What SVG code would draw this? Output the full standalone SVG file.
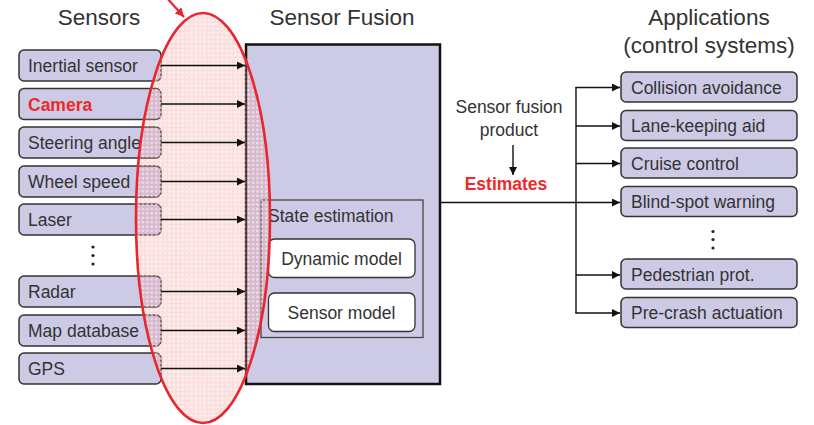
<svg xmlns="http://www.w3.org/2000/svg" width="814" height="425" viewBox="0 0 814 425">
  <style>
    text { font-family: "Liberation Sans", Arial, sans-serif; fill: #333; }
    .title { font-size: 22.5px; text-anchor: middle; }
    .lbl { font-size: 17.5px; }
    .mid { text-anchor: middle; }
    .node { fill: #cdcae6; stroke: #333; stroke-width: 1.5; }
    .white { fill: #fff; stroke: #333; stroke-width: 1.3; }
    .conn { stroke: #111; stroke-width: 1.4; fill: none; }
    .red { fill: #ec2a2a; font-weight: bold; }
  </style>
  <defs>
    <marker id="ah" viewBox="0 0 10 10" refX="10" refY="5" markerWidth="8" markerHeight="8" markerUnits="userSpaceOnUse" orient="auto">
      <path d="M0,0 L10,5 L0,10 z" fill="#111"/>
    </marker>
    <marker id="ahr" viewBox="0 0 10 10" refX="10" refY="5" markerWidth="9" markerHeight="9" markerUnits="userSpaceOnUse" orient="auto">
      <path d="M0,0 L10,5 L0,10 z" fill="#e8262b"/>
    </marker>
    <pattern id="grid" width="4.4" height="4.4" patternUnits="userSpaceOnUse">
      <rect width="4.4" height="4.4" fill="#f08c8c" fill-opacity="0.28"/>
      <rect x="1.1" y="1.1" width="2.2" height="2.2" fill="#ffffff" fill-opacity="0.6"/>
    </pattern>
  </defs>

  <!-- column titles -->
  <text class="title" x="99" y="25">Sensors</text>
  <text class="title" x="342" y="25">Sensor Fusion</text>
  <text class="title" x="709" y="25">Applications</text>
  <text class="title" x="709" y="53">(control systems)</text>

  <!-- sensor fusion block -->
  <g id="sensor-fusion">
    <rect x="246" y="44.5" width="194" height="339.5" fill="#cdcae6" stroke="#111" stroke-width="2.5"/>
    <g id="state-estimation">
      <rect x="261" y="200" width="162" height="137.5" fill="#cdcae6" stroke="#444" stroke-width="1.3"/>
      <text class="lbl" x="268" y="222">State estimation</text>
    </g>
    <g id="dynamic-model">
      <rect class="white" x="268.5" y="239" width="146.5" height="38.5" rx="6"/>
      <text class="lbl mid" x="341.5" y="265">Dynamic model</text>
    </g>
    <g id="sensor-model">
      <rect class="white" x="268.5" y="293" width="146.5" height="38.5" rx="6"/>
      <text class="lbl mid" x="341.5" y="319">Sensor model</text>
    </g>
  </g>

  <!-- sensors -->
  <g id="inertial-sensor">
    <rect class="node" x="19" y="50" width="142" height="31" rx="5"/>
    <text class="lbl" x="28" y="72">Inertial sensor</text>
  </g>
  <g id="camera">
    <rect class="node" x="19" y="88.5" width="142" height="31" rx="5"/>
    <text class="lbl red" x="28" y="110.5">Camera</text>
  </g>
  <g id="steering-angle">
    <rect class="node" x="19" y="127" width="142" height="31" rx="5"/>
    <text class="lbl" x="28" y="149">Steering angle</text>
  </g>
  <g id="wheel-speed">
    <rect class="node" x="19" y="166" width="142" height="31" rx="5"/>
    <text class="lbl" x="28" y="188">Wheel speed</text>
  </g>
  <g id="laser">
    <rect class="node" x="19" y="204" width="142" height="31" rx="5"/>
    <text class="lbl" x="28" y="226">Laser</text>
  </g>
  <g id="sensor-ellipsis" fill="#222">
    <circle cx="93" cy="247" r="1.6"/>
    <circle cx="93" cy="255.5" r="1.6"/>
    <circle cx="93" cy="264" r="1.6"/>
  </g>
  <g id="radar">
    <rect class="node" x="19" y="276" width="142" height="31" rx="5"/>
    <text class="lbl" x="28" y="298">Radar</text>
  </g>
  <g id="map-database">
    <rect class="node" x="19" y="315" width="142" height="31" rx="5"/>
    <text class="lbl" x="28" y="337">Map database</text>
  </g>
  <g id="gps">
    <rect class="node" x="19" y="353" width="142" height="31" rx="5"/>
    <text class="lbl" x="28" y="375">GPS</text>
  </g>

  <!-- applications -->
  <g id="collision-avoidance">
    <rect class="node" x="621" y="72" width="176" height="30" rx="5"/>
    <text class="lbl" x="631" y="93.5">Collision avoidance</text>
  </g>
  <g id="lane-keeping-aid">
    <rect class="node" x="621" y="110.5" width="176" height="30" rx="5"/>
    <text class="lbl" x="631" y="132">Lane-keeping aid</text>
  </g>
  <g id="cruise-control">
    <rect class="node" x="621" y="148" width="176" height="30" rx="5"/>
    <text class="lbl" x="631" y="169.5">Cruise control</text>
  </g>
  <g id="blind-spot-warning">
    <rect class="node" x="621" y="186.5" width="176" height="30" rx="5"/>
    <text class="lbl" x="631" y="208">Blind-spot warning</text>
  </g>
  <g id="app-ellipsis" fill="#222">
    <circle cx="713" cy="231.5" r="1.6"/>
    <circle cx="713" cy="239.5" r="1.6"/>
    <circle cx="713" cy="248" r="1.6"/>
  </g>
  <g id="pedestrian-prot">
    <rect class="node" x="621" y="259" width="176" height="30" rx="5"/>
    <text class="lbl" x="631" y="280.5">Pedestrian prot.</text>
  </g>
  <g id="pre-crash-actuation">
    <rect class="node" x="621" y="297.5" width="176" height="30" rx="5"/>
    <text class="lbl" x="631" y="319">Pre-crash actuation</text>
  </g>

  <!-- fusion product annotation -->
  <g id="fusion-product">
    <text class="lbl mid" x="509" y="113">Sensor fusion</text>
    <text class="lbl mid" x="509" y="135.5">product</text>
    <text class="lbl mid red" x="506" y="189.5">Estimates</text>
  </g>

  <!-- shaded sensor input region (fill below the arrows) -->
  <ellipse id="highlight-fill" cx="203" cy="218" rx="67" ry="205" fill="url(#grid)"/>

  <!-- connectors -->
  <g id="connectors" class="conn">
    <line x1="161" y1="65.5" x2="245" y2="65.5" marker-end="url(#ah)"/>
    <line x1="161" y1="104" x2="245" y2="104" marker-end="url(#ah)"/>
    <line x1="161" y1="142.5" x2="245" y2="142.5" marker-end="url(#ah)"/>
    <line x1="161" y1="181.5" x2="245" y2="181.5" marker-end="url(#ah)"/>
    <line x1="161" y1="219.5" x2="245" y2="219.5" marker-end="url(#ah)"/>
    <line x1="161" y1="291.5" x2="245" y2="291.5" marker-end="url(#ah)"/>
    <line x1="161" y1="330.5" x2="245" y2="330.5" marker-end="url(#ah)"/>
    <line x1="161" y1="368.5" x2="245" y2="368.5" marker-end="url(#ah)"/>

    <line x1="513" y1="145" x2="513" y2="175" marker-end="url(#ah)"/>

    <line x1="441" y1="202.5" x2="620" y2="202.5" marker-end="url(#ah)"/>
    <line x1="576" y1="87.5" x2="576" y2="313"/>
    <line x1="575.3" y1="87.5" x2="620" y2="87.5" marker-end="url(#ah)"/>
    <line x1="576" y1="126" x2="620" y2="126" marker-end="url(#ah)"/>
    <line x1="576" y1="163.5" x2="620" y2="163.5" marker-end="url(#ah)"/>
    <line x1="576" y1="275" x2="620" y2="275" marker-end="url(#ah)"/>
    <line x1="575.3" y1="313" x2="620" y2="313" marker-end="url(#ah)"/>
  </g>

  <!-- outline of the highlighted region and its pointer -->
  <g id="highlight">
    <ellipse cx="203" cy="218" rx="67" ry="205" fill="none" stroke="#e8262b" stroke-width="2.6"/>
    <line x1="166" y1="-3" x2="184" y2="17" stroke="#e8262b" stroke-width="2.2" marker-end="url(#ahr)"/>
  </g>
</svg>
